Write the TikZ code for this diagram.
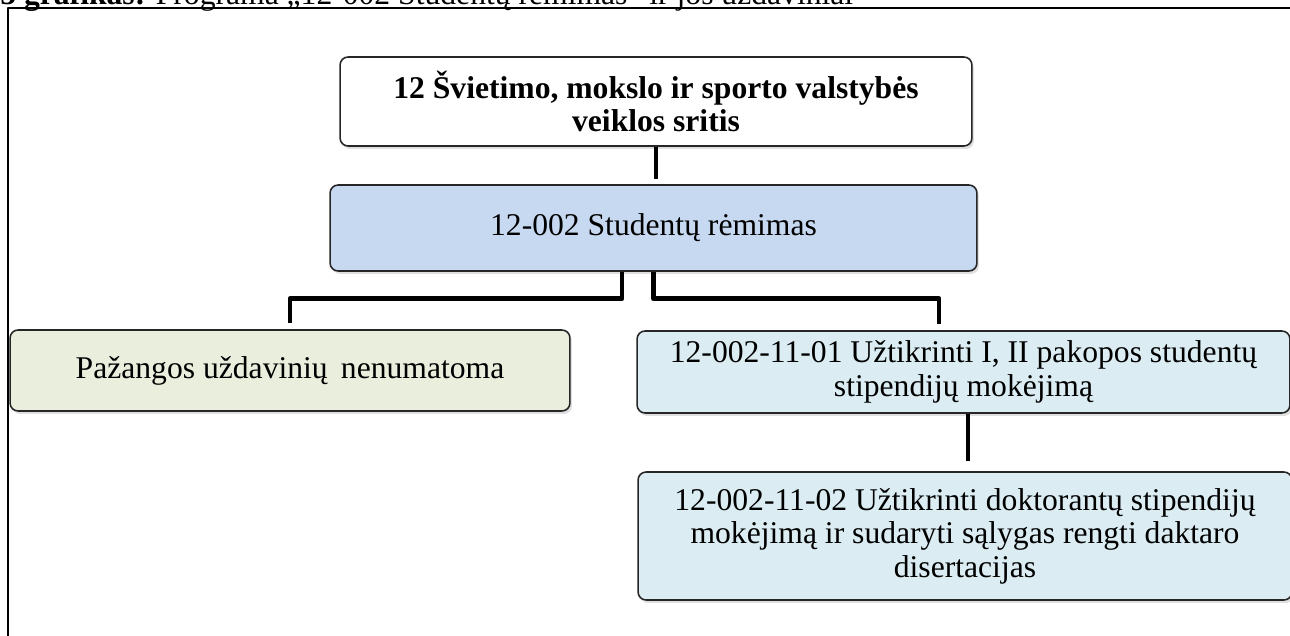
\documentclass[tikz,border=0pt]{standalone}
\usepackage{fontspec}
\setmainfont{Liberation Serif}
\usetikzlibrary{shadows}
\definecolor{remblue}{RGB}{198,217,240}
\definecolor{pazgreen}{RGB}{234,238,221}
\definecolor{uzdblue}{RGB}{219,237,243}
\begin{document}
\begin{tikzpicture}[x=0.02cm,y=-0.02cm,line join=round,
    font=\fontsize{18}{19}\selectfont,
    box/.style={draw=black!85,line width=0.9pt,rounded corners=0.16cm,
      align=center,inner sep=0pt,
      drop shadow={shadow xshift=0.04cm,shadow yshift=-0.06cm,opacity=0.25}},
    conn/.style={line width=2.8pt,shorten >=0.12cm}]
    \useasboundingbox (0,0) rectangle (1290,635);
    % antraste ir remelis
    \node[anchor=base west,inner sep=0pt] (antraste) at (0,4.5)
    {\textbf{5 grafikas:} Programa „12-002 Studentų rėmimas“ ir jos uždaviniai};
    \draw[line width=1.1pt] (1295,8) -- (8,8) -- (8,640);
    % langeliai
    \node[box,fill=white,minimum width=12.64cm,minimum height=1.78cm]
    (sritis) at (656,101.5) {\bfseries 12 Švietimo, mokslo ir sporto valstybės\\\bfseries veiklos sritis};
    \node[box,fill=remblue,minimum width=12.94cm,minimum height=1.72cm]
    (remimas) at (653.5,228) {12-002 Studentų rėmimas};
    \node[box,fill=pazgreen,minimum width=11.2cm,minimum height=1.62cm]
    (pazanga) at (290,370.5) {Pažangos uždavinių\, nenumatoma};
    \node[box,fill=uzdblue,minimum width=13.06cm,minimum height=1.64cm]
    (uzd1) at (963.5,372) {12-002-11-01 Užtikrinti I, II pakopos studentų\\stipendijų mokėjimą};
    \node[box,fill=uzdblue,minimum width=13.08cm,minimum height=2.56cm]
    (uzd2) at (965,536) {12-002-11-02 Užtikrinti doktorantų stipendijų\\mokėjimą ir sudaryti sąlygas rengti daktaro\\disertacijas};
    % jungtys
    \draw[conn,shorten >=0.1cm] (sritis.south) -- (sritis.south |- remimas.north);
    \draw[conn] ([xshift=-0.63cm]remimas.south) -- ++(0,27) -| (pazanga.north);
    \draw[conn] (remimas.south) -- ++(0,27) -| ([xshift=-0.49cm]uzd1.north);
    \draw[conn,shorten >=0.2cm] ([xshift=0.09cm]uzd1.south) -- ([xshift=0.09cm]uzd1.south |- uzd2.north);
\end{tikzpicture}
\end{document}
